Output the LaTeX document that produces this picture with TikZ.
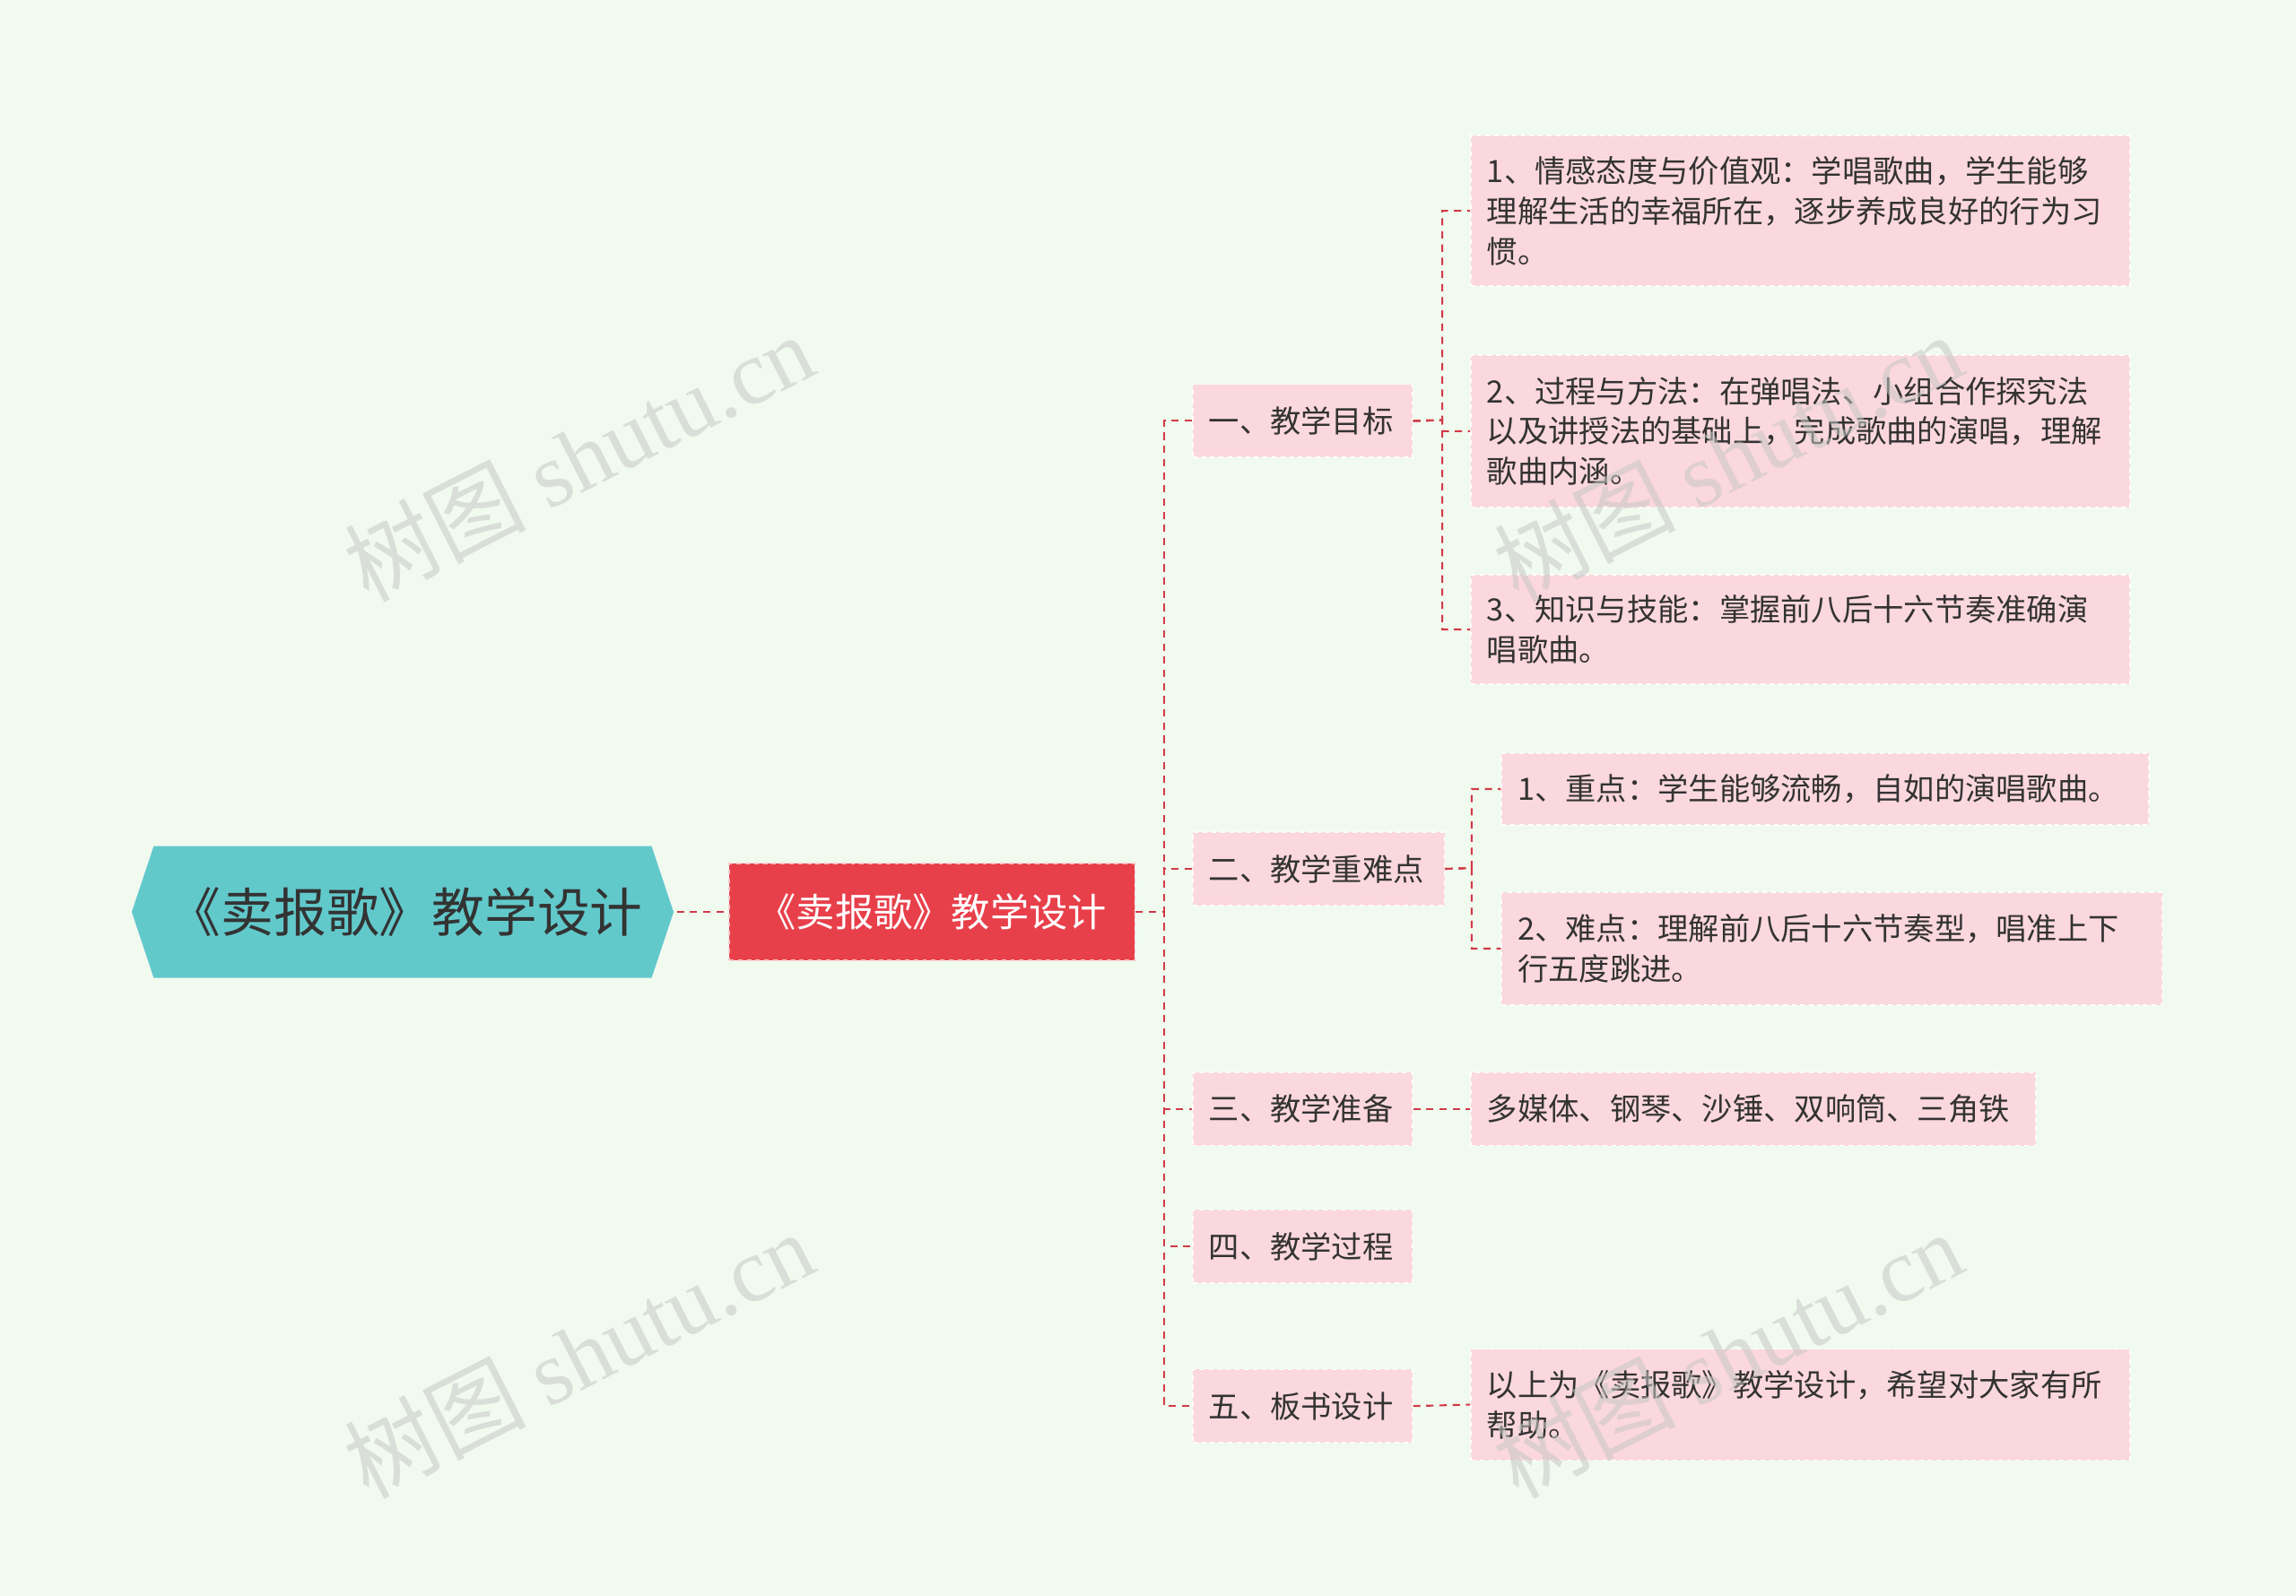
\documentclass[tikz,border=0pt]{standalone}
\usepackage{fontspec}
\setmainfont{Noto Sans CJK SC}
\newfontfamily\wmfont{Liberation Serif}
\usetikzlibrary{calc}
\definecolor{bg}{HTML}{F1FAEF}
\definecolor{pinkf}{HTML}{FBD8DD}
\definecolor{lnk}{HTML}{D23A47}
\definecolor{rootc}{HTML}{62C9CB}
\definecolor{secc}{HTML}{E8404B}
\definecolor{txt}{HTML}{333333}
\tikzset{
 lvbox/.style={fill=pinkf,draw=white,dashed,line width=1pt,text=txt,font=\fontsize{21}{27.5}\selectfont,inner xsep=11pt,inner ysep=0pt,anchor=north west,align=left},
 conn/.style={draw=lnk,line width=1.3pt,dash pattern=on 5pt off 4pt},
 wm/.style={text=black!22,opacity=0.55,font=\fontsize{62}{66}\selectfont,rotate=27}
}
\newcommand{\bx}[7]{%
 \node[lvbox,minimum width=#4-#2,minimum height=#5-#3,text width=#4-#2-22] (#1) at (#2,#3) {#6};}
\newcommand{\wmtext}{树图 {\wmfont shutu.cn}}
\begin{document}
\begin{tikzpicture}[x=1pt,y=-1pt]
\fill[bg] (0,0) rectangle (1568,1090);
\useasboundingbox (0,0) rectangle (1568,1090);
% root
\fill[rootc] (90,623)--(105,578)--(445,578)--(460,623)--(445,668)--(105,668)--cycle;
\node[text=txt,font=\fontsize{36}{40}\selectfont,minimum width=370,minimum height=90] (root) at (277,623) {《卖报歌》教学设计};
% second
\node[fill=secc,draw=white!70!secc,dashed,line width=1pt,text=white,font=\fontsize{26.5}{30}\selectfont,minimum width=277,minimum height=66,inner sep=0pt] (sec) at (636.5,623) {《卖报歌》教学设计};
% level 1
\bx{a}{814}{262}{964}{312}{一、教学目标}{}
\bx{b}{814}{568}{986}{618}{二、教学重难点}{}
\bx{c}{814}{732}{964}{782}{三、教学准备}{}
\bx{d}{814}{826}{964}{876}{四、教学过程}{}
\bx{e}{814}{935}{964}{985}{五、板书设计}{}
% leaves
\bx{a1}{1004}{92}{1454}{195}{1、情感态度与价值观：学唱歌曲，学生能够\\理解生活的幸福所在，逐步养成良好的行为习\\惯。}{}
\bx{a2}{1004}{242}{1454}{346}{2、过程与方法：在弹唱法、小组合作探究法\\以及讲授法的基础上，完成歌曲的演唱，理解\\歌曲内涵。}{}
\bx{a3}{1004}{392}{1454}{467}{3、知识与技能：掌握前八后十六节奏准确演\\唱歌曲。}{}
\bx{b1}{1025}{514}{1467}{563}{1、重点：学生能够流畅，自如的演唱歌曲。}{}
\bx{b2}{1025}{609}{1476}{686}{2、难点：理解前八后十六节奏型，唱准上下\\行五度跳进。}{}
\bx{c1}{1004}{732}{1390}{782}{多媒体、钢琴、沙锤、双响筒、三角铁}{}
\bx{e1}{1004}{921}{1454}{997}{以上为《卖报歌》教学设计，希望对大家有所\\帮助。}{}
% connectors
\draw[conn] (root.east) -- (sec.west);
\coordinate (t0) at (795,623);
\foreach \n in {a,b,c,d,e} \draw[conn] (sec.east) -- (t0) |- (\n.west);
\coordinate (t1) at (985,287);
\foreach \n in {a1,a2,a3} \draw[conn] (a.east) -- (t1) |- (\n.west);
\coordinate (t2) at (1005,593);
\foreach \n in {b1,b2} \draw[conn] (b.east) -- (t2) |- (\n.west);
\draw[conn] (c.east) -- (c1.west);
\draw[conn] (e.east) -- (e1.west);
% watermarks
\node[wm] at (395,312) {\wmtext};
\node[wm] at (1180,312) {\wmtext};
\node[wm] at (395,925) {\wmtext};
\node[wm] at (1180,925) {\wmtext};
\end{tikzpicture}
\end{document}
